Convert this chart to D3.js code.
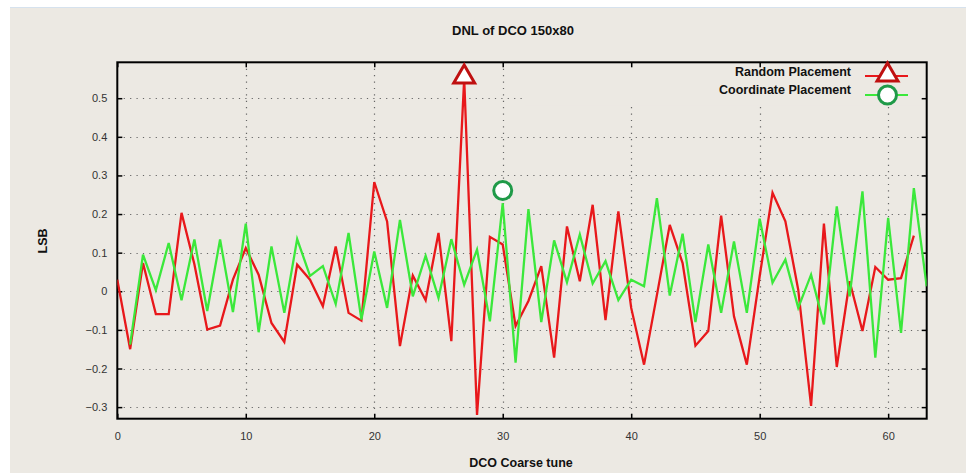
<!DOCTYPE html>
<html lang="en">
<meta charset="utf-8">
<style>
body { margin: 0; background: #fff; }
.tick text { font: 11px "Liberation Sans", Arial, sans-serif; fill: #333; }
.lbl { font: bold 12.5px "Liberation Sans", Arial, sans-serif; fill: #111; }
.title { font: bold 13px "Liberation Sans", Arial, sans-serif; fill: #111; }
</style>
<body>
<script src="https://d3js.org/d3.v7.min.js"></script>
<script>
// DNL per coarse tune code
var randomCodes = d3.range(0, 63);
var randomDnl = [0.03, -0.15, 0.073, -0.059, -0.059, 0.203, 0.07, -0.099, -0.089, 0.03,
  0.112, 0.043, -0.082, -0.131, 0.069, 0.03, -0.039, 0.116, -0.056, -0.076,
  0.283, 0.181, -0.142, 0.041, -0.023, 0.151, -0.129, 0.55, -0.32, 0.141,
  0.121, -0.09, -0.025, 0.065, -0.172, 0.168, 0.026, 0.224, -0.075, 0.207,
  -0.043, -0.19, -0.01, 0.172, 0.073, -0.141, -0.103, 0.196, -0.065, -0.19,
  0.039, 0.255, 0.181, 0.004, -0.297, 0.175, -0.196, 0.026, -0.103, 0.063,
  0.03, 0.034, 0.144];
var coordCodes = d3.range(1, 64);
var coordDnl = [-0.138, 0.095, 0.003, 0.125, -0.023, 0.134, -0.051, 0.134, -0.054,
  0.175, -0.106, 0.116, -0.056, 0.135, 0.04, 0.065, -0.033, 0.151, -0.073,
  0.103, -0.043, 0.185, -0.013, 0.092, -0.017, 0.135, 0.017, 0.108, -0.078,
  0.228, -0.185, 0.213, -0.08, 0.132, 0.023, 0.147, 0.02, 0.078, -0.023,
  0.03, 0.013, 0.241, -0.011, 0.149, -0.08, 0.121, -0.056, 0.129, -0.056,
  0.188, 0.022, 0.082, -0.043, 0.043, -0.086, 0.22, -0.013, 0.259, -0.172,
  0.19, -0.108, 0.267, 0.013];
var xTicks = [0, 10, 20, 30, 40, 50, 60];
var yTicks = [-0.3, -0.2, -0.1, 0, 0.1, 0.2, 0.3, 0.4, 0.5];
// highlighted points
var triPoint = [27, 0.555];
var circPoint = [30, 0.261];

var w = 966, h = 473;
var plotL = 117.3, plotR = 926.7, plotT = 62.3, plotB = 418.7;
var bg = "#ece9e3";

var svg = d3.select("body").append("svg")
  .attr("width", w).attr("height", h);

svg.append("rect").attr("x", 10).attr("y", 8).attr("width", w - 10).attr("height", 465)
  .attr("fill", bg);
svg.append("line").attr("x1", 10).attr("x2", w).attr("y1", 7.5).attr("y2", 7.5)
  .attr("stroke", "#d6e2ee");

var x = d3.scaleLinear().domain([0, 63]).range([plotL, plotR]);
var y = d3.scaleLinear().domain([-0.33, 0.593]).range([plotB, plotT]);

// grid
var grid = svg.append("g").attr("stroke", "#666").attr("stroke-width", 1.2)
  .attr("stroke-dasharray", "1.2,5.2");
grid.selectAll(".gx").data(xTicks.slice(1)).enter().append("line")
  .attr("x1", function(d) { return Math.round(x(d)) + 0.5; })
  .attr("x2", function(d) { return Math.round(x(d)) + 0.5; })
  .attr("y1", plotT).attr("y2", plotB);
grid.selectAll(".gy").data(yTicks).enter().append("line")
  .attr("y1", function(d) { return Math.round(y(d)) + 0.5; })
  .attr("y2", function(d) { return Math.round(y(d)) + 0.5; })
  .attr("x1", plotL).attr("x2", plotR);

// key area is cleared
svg.append("rect").attr("x", 525).attr("y", plotT + 1).attr("width", plotR - 528).attr("height", 42)
  .attr("fill", bg);

// axes
svg.append("g").attr("transform", "translate(0," + plotB + ")")
  .call(d3.axisBottom(x).tickValues(xTicks).tickSize(-5).tickPadding(14).tickFormat(d3.format("d")))
  .call(function(g) { g.select(".domain").remove(); });
svg.append("g").attr("transform", "translate(" + plotL + ",0)")
  .call(d3.axisLeft(y).tickValues(yTicks).tickSize(-5).tickPadding(10)
    .tickFormat(function(d) { return d === 0 ? "0" : d3.format(".1f")(d); }))
  .call(function(g) { g.select(".domain").remove(); });
svg.append("g").attr("transform", "translate(0," + plotT + ")")
  .call(d3.axisTop(x).tickValues(xTicks).tickSize(-5).tickFormat(""))
  .call(function(g) { g.select(".domain").remove(); });
svg.append("g").attr("transform", "translate(" + plotR + ",0)")
  .call(d3.axisRight(y).tickValues(yTicks).tickSize(-5).tickFormat(""))
  .call(function(g) { g.select(".domain").remove(); });
svg.selectAll(".tick line").attr("stroke", "#000").attr("stroke-width", 1.5);

svg.append("rect").attr("x", plotL).attr("y", plotT).attr("width", plotR - plotL).attr("height", plotB - plotT)
  .attr("fill", "none").attr("stroke", "#000").attr("stroke-width", 2);

svg.append("clipPath").attr("id", "clip").append("rect")
  .attr("x", plotL).attr("y", plotT).attr("width", plotR - plotL).attr("height", plotB - plotT);

var line = d3.line()
  .x(function(d) { return x(d[0]); })
  .y(function(d) { return y(d[1]); });

var plot = svg.append("g").attr("clip-path", "url(#clip)");
plot.append("path").datum(d3.zip(randomCodes, randomDnl))
  .attr("d", line).attr("fill", "none").attr("stroke", "#e8181b").attr("stroke-width", 2.3);
plot.append("path").datum(d3.zip(coordCodes, coordDnl))
  .attr("d", line).attr("fill", "none").attr("stroke", "#3be83b").attr("stroke-width", 2.3);

var tri = d3.symbol().type(d3.symbolTriangle).size(190);
function drawTri(cx, cy) {
  svg.append("path").attr("d", tri).attr("transform", "translate(" + cx + "," + cy + ")")
    .attr("fill", "#fff").attr("stroke", "#bf1010").attr("stroke-width", 3);
}
function drawCirc(cx, cy) {
  svg.append("circle").attr("cx", cx).attr("cy", cy).attr("r", 9)
    .attr("fill", "#fff").attr("stroke", "#1f9a48").attr("stroke-width", 3);
}
drawTri(x(triPoint[0]), y(triPoint[1]));
drawCirc(x(circPoint[0]), y(circPoint[1]));

// legend
svg.append("text").attr("class", "lbl").attr("x", 851).attr("y", 76).attr("text-anchor", "end")
  .text("Random Placement");
svg.append("text").attr("class", "lbl").attr("x", 851).attr("y", 94).attr("text-anchor", "end")
  .text("Coordinate Placement");
svg.append("line").attr("x1", 865).attr("x2", 908).attr("y1", 76).attr("y2", 76)
  .attr("stroke", "#e8181b").attr("stroke-width", 2);
svg.append("line").attr("x1", 865).attr("x2", 908).attr("y1", 95).attr("y2", 95)
  .attr("stroke", "#3be83b").attr("stroke-width", 2);
drawTri(887.5, 75);
drawCirc(887.5, 95);

// titles
svg.append("text").attr("class", "title").attr("x", 513).attr("y", 35).attr("text-anchor", "middle")
  .text("DNL of DCO 150x80");
svg.append("text").attr("class", "lbl").attr("x", 521).attr("y", 467).attr("text-anchor", "middle")
  .text("DCO Coarse tune");
svg.append("text").attr("class", "lbl").attr("transform", "translate(47,241) rotate(-90)")
  .attr("text-anchor", "middle").text("LSB");
</script>
</body>
</html>
